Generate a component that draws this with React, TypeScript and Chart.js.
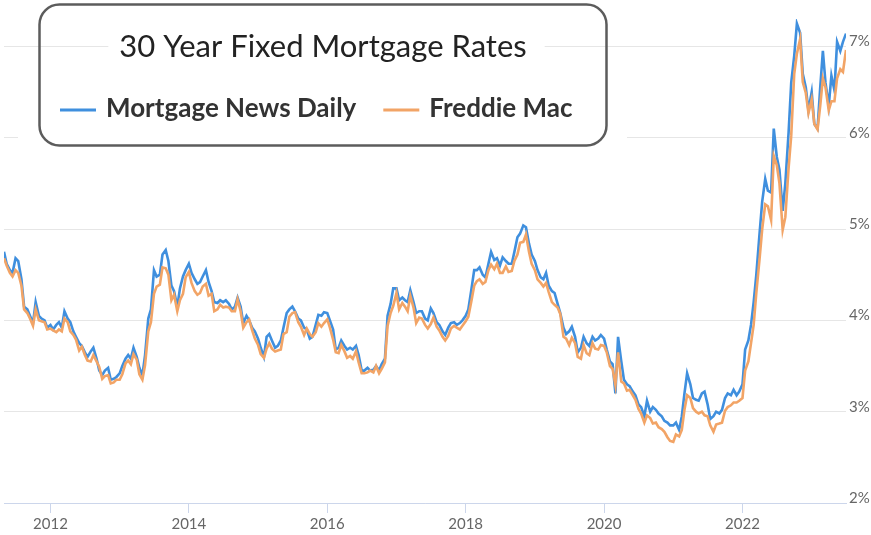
import React, { useEffect, useRef } from 'react';
import { Chart, registerables } from 'chart.js';

Chart.register(...registerables);

const chartTitle = '30 Year Fixed Mortgage Rates';
const seriesNames = ['Mortgage News Daily', 'Freddie Mac'];
const seriesColors = ['#3f8fde', '#f2a466'];
const gridColor = '#e6e6e6';
const axisColor = '#ccd6eb';

// semi-monthly samples (1st and 15th of each month) starting May 2011
const startYear = 2011;
const startMonth = 5;
const yearTicks = [2012, 2014, 2016, 2018, 2020, 2022];
const rateTicks = [2, 3, 4, 5, 6, 7];

const mndRates = [
  4.75, 4.62, 4.55, 4.52, 4.68, 4.65, 4.45, 4.15, 4.12, 4.05, 3.97, 4.20, 4.05, 4.02, 4.00, 3.92, // 2011
  3.95, 3.90, 3.95, 3.98, 3.92, 4.10, 4.02, 3.98, 3.88, 3.82, 3.75, 3.72, 3.65, 3.60, 3.66, 3.70, 3.58, 3.45, 3.40, 3.45, 3.48, 3.35, 3.36, 3.38, // 2012
  3.42, 3.50, 3.58, 3.62, 3.58, 3.70, 3.60, 3.48, 3.40, 3.62, 4.02, 4.12, 4.55, 4.48, 4.50, 4.72, 4.77, 4.65, 4.38, 4.32, 4.15, 4.35, 4.48, 4.55, // 2013
  4.62, 4.52, 4.45, 4.40, 4.42, 4.48, 4.55, 4.42, 4.32, 4.20, 4.19, 4.22, 4.20, 4.22, 4.18, 4.12, 4.15, 4.25, 4.15, 3.97, 4.05, 4.00, 3.92, 3.88, // 2014
  3.80, 3.70, 3.60, 3.82, 3.85, 3.78, 3.70, 3.72, 3.78, 3.92, 4.08, 4.12, 4.15, 4.10, 4.02, 4.00, 3.92, 3.90, 3.80, 3.82, 3.95, 4.06, 4.05, 4.09, // 2015
  4.08, 4.00, 3.90, 3.68, 3.70, 3.78, 3.72, 3.68, 3.70, 3.68, 3.72, 3.62, 3.45, 3.45, 3.48, 3.45, 3.46, 3.50, 3.45, 3.52, 3.58, 4.05, 4.18, 4.35, // 2016
  4.35, 4.22, 4.25, 4.22, 4.20, 4.33, 4.20, 4.08, 4.10, 4.10, 4.02, 4.00, 4.13, 4.08, 3.98, 3.95, 3.88, 3.84, 3.92, 3.97, 3.98, 3.95, 3.97, 4.00, // 2017
  4.05, 4.12, 4.35, 4.55, 4.55, 4.58, 4.50, 4.47, 4.62, 4.75, 4.66, 4.68, 4.60, 4.69, 4.65, 4.62, 4.62, 4.75, 4.91, 4.95, 5.04, 5.02, 4.84, 4.72, // 2018
  4.65, 4.55, 4.47, 4.45, 4.52, 4.38, 4.32, 4.30, 4.18, 4.08, 3.92, 3.85, 3.88, 3.93, 3.82, 3.65, 3.70, 3.82, 3.75, 3.72, 3.82, 3.78, 3.80, 3.84, // 2019
  3.80, 3.68, 3.55, 3.52, 3.20, 3.82, 3.55, 3.35, 3.30, 3.28, 3.22, 3.18, 3.08, 3.05, 2.95, 3.12, 3.00, 3.05, 3.02, 2.98, 2.95, 2.90, 2.88, 2.85, // 2020
  2.85, 2.88, 2.80, 2.95, 3.20, 3.42, 3.30, 3.15, 3.13, 3.12, 3.20, 3.22, 3.08, 2.92, 2.95, 3.00, 2.98, 3.02, 3.15, 3.20, 3.18, 3.24, 3.18, 3.22, // 2021
  3.30, 3.68, 3.78, 3.95, 4.20, 4.50, 4.95, 5.30, 5.55, 5.42, 5.40, 6.10, 5.79, 5.65, 5.20, 5.50, 6.05, 6.60, 6.90, 7.25, 7.15, 6.70, 6.55, 6.30, // 2022
  6.50, 6.15, 6.10, 6.55, 6.95, 6.60, 6.35, 6.68, 6.52, 7.05, 6.95, 7.05, 7.14, // 2023
];

const freddieRates = [
  4.68, 4.60, 4.52, 4.48, 4.55, 4.52, 4.38, 4.12, 4.08, 4.02, 3.94, 4.12, 4.00, 3.99, 3.98, 3.90, // 2011
  3.91, 3.89, 3.87, 3.90, 3.88, 4.02, 3.98, 3.88, 3.84, 3.79, 3.67, 3.71, 3.62, 3.56, 3.55, 3.62, 3.55, 3.49, 3.36, 3.39, 3.40, 3.31, 3.32, 3.35, // 2012
  3.35, 3.41, 3.53, 3.56, 3.52, 3.63, 3.57, 3.41, 3.35, 3.51, 3.88, 3.98, 4.29, 4.37, 4.39, 4.58, 4.57, 4.50, 4.22, 4.28, 4.10, 4.22, 4.29, 4.47, // 2013
  4.53, 4.41, 4.32, 4.28, 4.30, 4.37, 4.40, 4.27, 4.29, 4.10, 4.12, 4.17, 4.14, 4.15, 4.14, 4.10, 4.10, 4.23, 4.10, 3.92, 3.98, 4.01, 3.89, 3.80, // 2014
  3.73, 3.63, 3.59, 3.69, 3.75, 3.69, 3.66, 3.67, 3.68, 3.85, 3.87, 4.04, 4.08, 4.09, 3.98, 3.93, 3.84, 3.91, 3.85, 3.82, 3.87, 3.97, 3.93, 3.97, // 2015
  4.01, 3.92, 3.79, 3.65, 3.64, 3.73, 3.66, 3.59, 3.61, 3.58, 3.66, 3.54, 3.42, 3.42, 3.43, 3.45, 3.43, 3.50, 3.42, 3.47, 3.54, 3.94, 4.08, 4.16, // 2016
  4.30, 4.12, 4.19, 4.15, 4.10, 4.27, 4.14, 3.97, 4.03, 4.02, 3.95, 3.91, 3.96, 4.03, 3.93, 3.89, 3.82, 3.78, 3.83, 3.91, 3.94, 3.92, 3.90, 3.94, // 2017
  3.99, 4.04, 4.22, 4.38, 4.43, 4.45, 4.40, 4.42, 4.55, 4.61, 4.56, 4.62, 4.52, 4.52, 4.59, 4.53, 4.54, 4.65, 4.72, 4.85, 4.86, 4.94, 4.75, 4.62, // 2018
  4.55, 4.45, 4.41, 4.37, 4.41, 4.31, 4.20, 4.17, 4.14, 4.07, 3.82, 3.80, 3.73, 3.81, 3.75, 3.60, 3.58, 3.73, 3.64, 3.62, 3.75, 3.69, 3.68, 3.73, // 2019
  3.72, 3.65, 3.50, 3.47, 3.29, 3.65, 3.33, 3.31, 3.23, 3.24, 3.18, 3.13, 3.03, 2.98, 2.88, 2.96, 2.93, 2.87, 2.88, 2.83, 2.81, 2.78, 2.72, 2.68, // 2020
  2.67, 2.75, 2.73, 2.80, 3.02, 3.18, 3.15, 3.04, 3.00, 2.98, 3.00, 2.96, 2.95, 2.85, 2.78, 2.86, 2.87, 2.88, 3.01, 3.05, 3.07, 3.10, 3.10, 3.12, // 2021
  3.15, 3.45, 3.55, 3.75, 3.95, 4.30, 4.67, 5.00, 5.27, 5.25, 5.10, 5.80, 5.70, 5.50, 4.99, 5.13, 5.66, 6.02, 6.70, 6.92, 7.08, 6.61, 6.49, 6.27, // 2022
  6.42, 6.15, 6.09, 6.35, 6.65, 6.55, 6.30, 6.40, 6.40, 6.65, 6.75, 6.72, 6.96, // 2023
];

function sampleDates(n: number): number[] {
  const out: number[] = [];
  for (let i = 0; i < n; i++) {
    const monthIndex = startMonth - 1 + Math.floor(i / 2);
    const year = startYear + Math.floor(monthIndex / 12);
    const month = monthIndex % 12;
    const day = i % 2 === 0 ? 1 : 15;
    const y0 = Date.UTC(year, 0, 1);
    const y1 = Date.UTC(year + 1, 0, 1);
    out.push(year + (Date.UTC(year, month, day) - y0) / (y1 - y0));
  }
  return out;
}

const alignPx = (p: number) => Math.round(p - 0.5) + 0.5;

const legendBoxPlugin = {
  id: 'legendBox',
  afterDraw(chart: any) {
    const { ctx, scales } = chart;
    const yScale = scales.y;
    const area = chart.chartArea;
    ctx.save();
    // white halo behind the box
    ctx.fillStyle = '#ffffff';
    ctx.fillRect(18, 0, 609, 160);
    // 7% gridline runs through the box
    const gy = alignPx(yScale.getPixelForValue(7));
    ctx.strokeStyle = gridColor;
    ctx.lineWidth = 1;
    ctx.beginPath();
    ctx.moveTo(Math.max(18, area.left), gy);
    ctx.lineTo(627, gy);
    ctx.stroke();

    // title with white backing
    const cx = 323;
    ctx.font = '31px Lato';
    ctx.textBaseline = 'middle';
    ctx.textAlign = 'center';
    const tw = ctx.measureText(chartTitle).width;
    ctx.fillStyle = '#ffffff';
    ctx.fillRect(cx - tw / 2 - 11, gy - 20, tw + 29, 40);
    ctx.fillStyle = '#222222';
    ctx.fillText(chartTitle, cx, 47);

    // rounded border
    ctx.strokeStyle = '#5c5c5c';
    ctx.lineWidth = 2.5;
    ctx.beginPath();
    ctx.roundRect(39.5, 4.5, 567, 141, 20);
    ctx.stroke();

    // legend items
    const ly = 109;
    ctx.font = 'bold 26px Lato';
    ctx.textAlign = 'left';
    let x = 60;
    seriesNames.forEach((name, i) => {
      ctx.strokeStyle = seriesColors[i];
      ctx.lineWidth = 3;
      ctx.beginPath();
      ctx.moveTo(x, ly + 1);
      ctx.lineTo(x + 36, ly + 1);
      ctx.stroke();
      ctx.fillStyle = '#333333';
      ctx.fillText(name, x + 46, ly);
      x = x + 46 + ctx.measureText(name).width + 27;
    });
    ctx.restore();
  },
};

export default function App() {
  const canvasRef = useRef<HTMLCanvasElement | null>(null);

  useEffect(() => {
    document.body.style.margin = '0';
    const canvas = canvasRef.current;
    if (!canvas) return;
    const dates = sampleDates(mndRates.length);
    const mndData = mndRates.map((v, i) => ({ x: dates[i], y: v }));
    const fmData = freddieRates.map((v, i) => ({ x: dates[i], y: v }));

    const chart = new Chart(canvas, {
      type: 'line',
      data: {
        datasets: [
          {
            label: seriesNames[0],
            data: mndData,
            borderColor: seriesColors[0],
            borderWidth: 2.6,
            pointRadius: 0,
            tension: 0,
            order: 1,
          },
          {
            label: seriesNames[1],
            data: fmData,
            borderColor: seriesColors[1],
            borderWidth: 2.6,
            pointRadius: 0,
            tension: 0,
            order: 0,
          },
        ],
      },
      options: {
        responsive: false,
        animation: false,
        events: [],
        layout: { padding: { left: 4, right: 0, top: 19, bottom: 0 } },
        plugins: {
          legend: { display: false },
          title: { display: false },
          tooltip: { enabled: false },
        },
        scales: {
          x: {
            type: 'linear',
            min: dates[0],
            max: dates[dates.length - 1],
            afterBuildTicks: (scale: any) => {
              scale.ticks = yearTicks.map((v) => ({ value: v }));
            },
            afterFit: (scale: any) => {
              scale.height = 32;
            },
            grid: {
              drawOnChartArea: false,
              drawTicks: true,
              tickLength: 10,
              color: axisColor,
            },
            border: { display: true, color: axisColor, width: 1 },
            ticks: {
              autoSkip: false,
              maxRotation: 0,
              padding: 2,
              color: '#666666',
              font: { family: 'Lato', size: 15 },
              callback: (v: any) => String(v),
            },
          },
          y: {
            type: 'linear',
            position: 'right',
            min: 2,
            max: 7.3,
            afterBuildTicks: (scale: any) => {
              scale.ticks = rateTicks.map((v) => ({ value: v }));
            },
            afterFit: (scale: any) => {
              scale.width = 25;
            },
            grid: { color: gridColor, drawTicks: false },
            border: { display: false },
            ticks: {
              padding: 3,
              labelOffset: -5,
              color: '#666666',
              font: { family: 'Lato', size: 15 },
              callback: (v: any) => v + '%',
            },
          },
        },
      },
      plugins: [legendBoxPlugin],
    });
    return () => chart.destroy();
  }, []);

  return (
    <div style={{ width: 871, height: 535 }}>
      <canvas ref={canvasRef} width={871} height={535} style={{ display: 'block' }} />
    </div>
  );
}
